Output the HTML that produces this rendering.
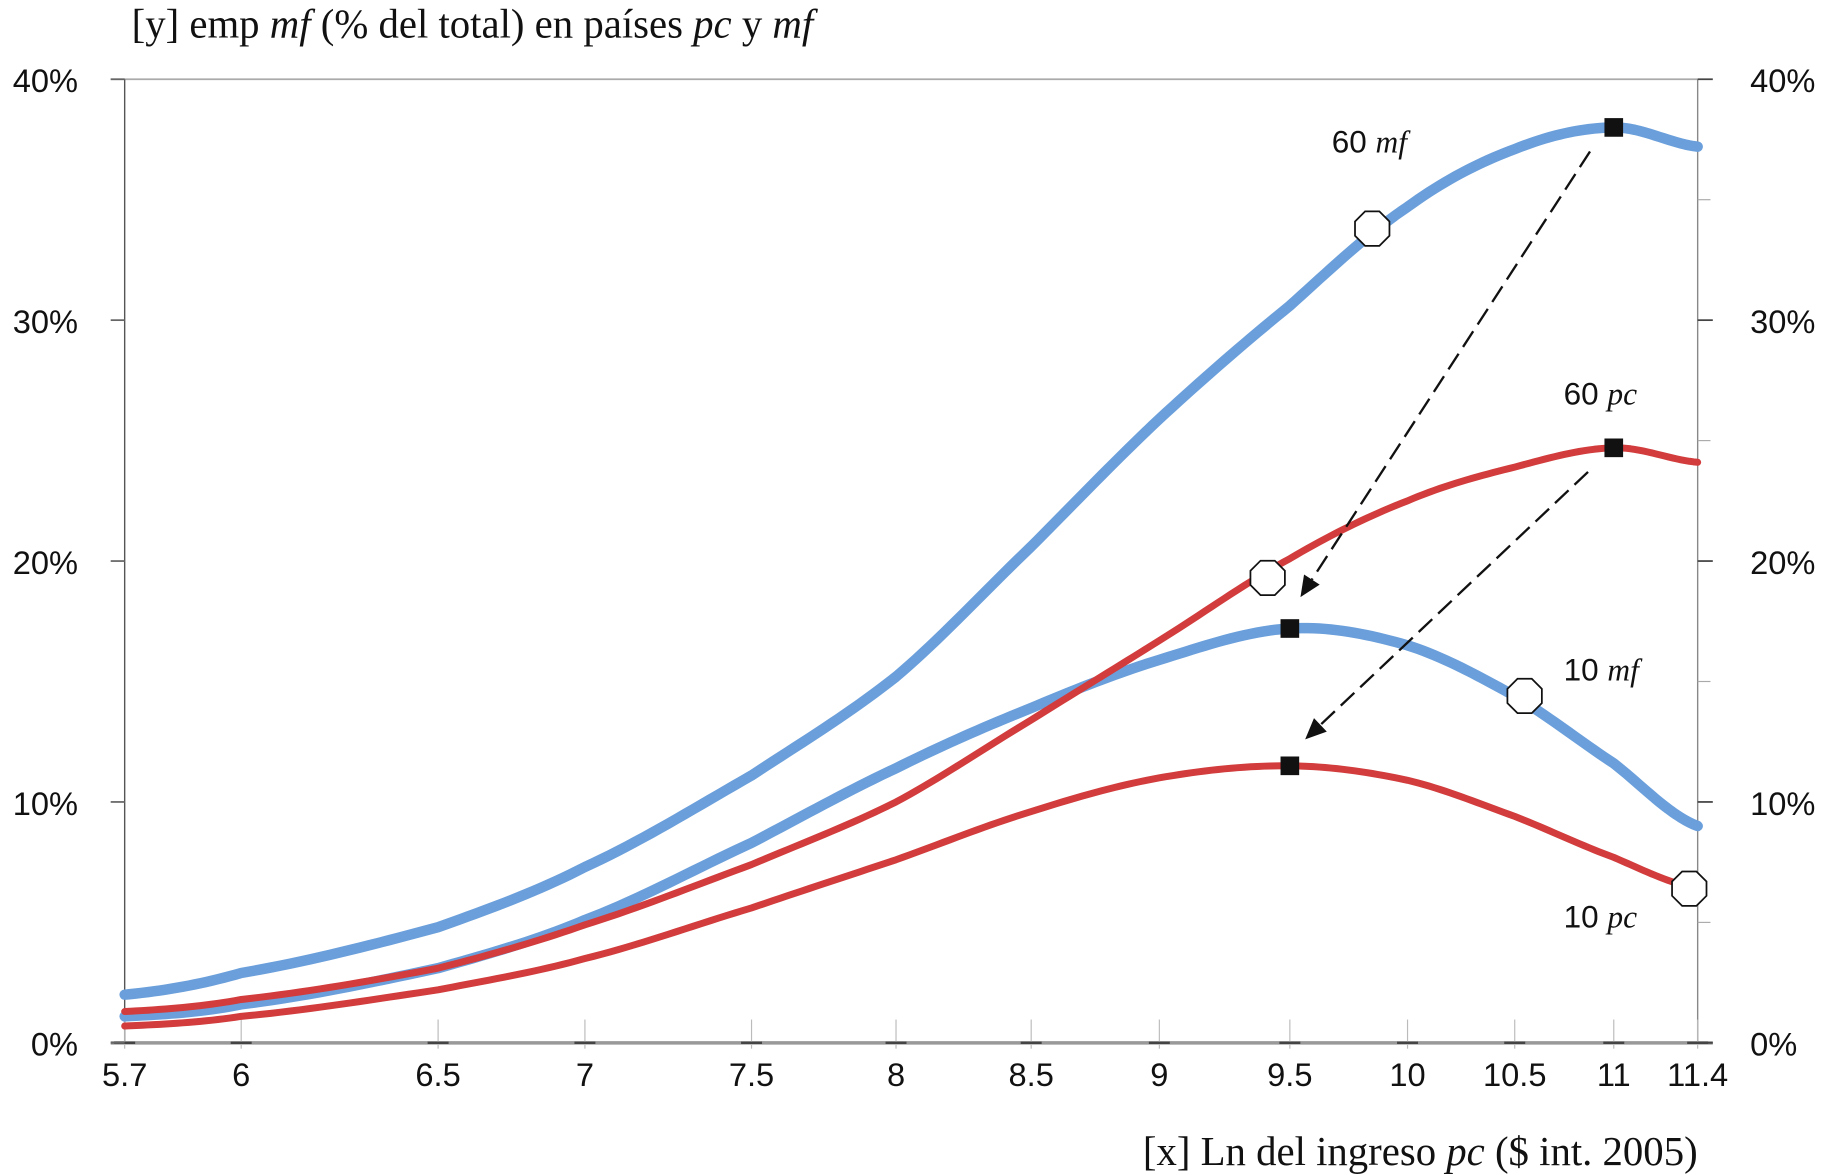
<!DOCTYPE html>
<html><head><meta charset="utf-8"><style>
html,body{margin:0;padding:0;background:#fff;}
svg{display:block;}
.t{font-family:"Liberation Sans",sans-serif;font-size:28px;fill:#111;}
.l{font-family:"Liberation Sans",sans-serif;font-size:27px;fill:#111;}
.s{font-family:"Liberation Serif",serif;font-size:35px;fill:#111;}
</style></head><body>
<svg id="chart" width="1827" height="1175" viewBox="0 0 1568 1008.4" xmlns="http://www.w3.org/2000/svg">
<g id="axes"></g>
<g id="series"></g>
<g id="marks"></g>
<text class="s" x="113" y="32">[y] emp <tspan font-style="italic">mf</tspan> (% del total) en países <tspan font-style="italic">pc</tspan> y <tspan font-style="italic">mf</tspan></text>
<text class="s" x="1457" y="1000" text-anchor="end">[x] Ln del ingreso <tspan font-style="italic">pc</tspan> ($ int. 2005)</text>
</svg>
<script>
const xTickValues=[5.7,6,6.5,7,7.5,8,8.5,9,9.5,10,10.5,11,11.4];
const xTickLabels=['5.7','6','6.5','7','7.5','8','8.5','9','9.5','10','10.5','11','11.4'];
const yTickValues=[0,10,20,30,40];
const yTickLabels=['0%','10%','20%','30%','40%'];
const xs=[5.7,6,6.5,7,7.5,8,8.5,9,9.5,10,10.5,11,11.4];
const mf60=[2.0,2.9,4.8,7.3,11.1,15.2,20.6,25.9,30.6,34.7,37.1,38.0,37.2];
const pc60=[1.3,1.8,3.1,4.9,7.4,10.0,13.4,16.7,20.1,22.5,23.9,24.7,24.1];
const mf10=[1.1,1.6,3.1,5.1,8.3,11.4,13.9,15.9,17.2,16.5,14.4,11.6,9.0];
const pc10=[0.7,1.1,2.2,3.5,5.6,7.6,9.6,11.0,11.5,10.9,9.4,7.7,6.4];
const squareX=[11,11,9.5,9.5];
const squareY=[38.0,24.7,17.2,11.5];
const circleX=[9.85,9.415,10.55,11.36];
const circleY=[33.8,19.3,14.4,6.4];
const arrowFromX=[10.88,10.87];
const arrowFromY=[37.0,23.7];
const arrowToX=[9.545,9.565];
const arrowToY=[18.5,12.6];
const knotPx=[107,207,376,502,645,769,885,995,1107,1208,1300,1385,1457];
function X(v){for(let i=0;i<xTickValues.length-1;i++){const a=xTickValues[i],b=xTickValues[i+1];if(v<=b||i==xTickValues.length-2)return knotPx[i]+(v-a)/(b-a)*(knotPx[i+1]-knotPx[i]);}}
function Y(v){return 895-v*20.675;}
const NS='http://www.w3.org/2000/svg';
function mk(tag,at,parent){const e=document.createElementNS(NS,tag);for(const k in at)e.setAttribute(k,at[k]);parent.appendChild(e);return e;}
const ax=document.getElementById('axes');
let e;
e=mk('line',{x1:95,y1:68,x2:1457,y2:68,stroke:'#aaa','stroke-width':1.5},ax);


e=mk('line',{x1:107,y1:68,x2:107,y2:895,stroke:'#555','stroke-width':1.2},ax);


e=mk('line',{x1:1457,y1:68,x2:1457,y2:895,stroke:'#888','stroke-width':1.2},ax);


e=mk('line',{x1:95,y1:895,x2:1470,y2:895,stroke:'#999','stroke-width':3},ax);


for(let i=0;i<xTickValues.length;i++){const x=X(xTickValues[i]);
 e=mk('line',{x1:x,y1:875,x2:x,y2:900,stroke:'#bbb','stroke-width':1},ax);
 
 
 e=mk('line',{x1:x-9,y1:895,x2:x+9,y2:895,stroke:'#444','stroke-width':2},ax);
 
 
 e=mk('text',{x:x,y:932,'text-anchor':'middle',class:'t'},ax);e.textContent=xTickLabels[i];
 
 
}
for(let i=0;i<yTickValues.length;i++){const y=Y(yTickValues[i]);
 e=mk('line',{x1:95,y1:y,x2:107,y2:y,stroke:'#666','stroke-width':1.5},ax);
 
 
 e=mk('line',{x1:1457,y1:y,x2:1470,y2:y,stroke:'#444','stroke-width':1.5},ax);
 
 
 e=mk('text',{x:67,y:y+11,'text-anchor':'end',class:'t'},ax);e.textContent=yTickLabels[i];
 
 
 e=mk('text',{x:1502,y:y+11,class:'t'},ax);e.textContent=yTickLabels[i];
 
 
 if(i<yTickValues.length-1){const ym=Y(yTickValues[i]+5);
  e=mk('line',{x1:1457,y1:ym,x2:1468,y2:ym,stroke:'#aaa','stroke-width':1},ax);
  
  }
}
// Catmull-Rom interpolation in data space, sampled finely then mapped to pixels
function smooth(xv,yv){const n=xv.length;let pts=[];
 for(let i=0;i<n-1;i++){const i0=Math.max(i-1,0),i3=Math.min(i+2,n-1);
  for(let s=0;s<20;s++){const t=s/20,t2=t*t,t3=t2*t;
   const f=(p0,p1,p2,p3)=>0.5*((2*p1)+(-p0+p2)*t+(2*p0-5*p1+4*p2-p3)*t2+(-p0+3*p1-3*p2+p3)*t3);
   const xx=xv[i]+(xv[i+1]-xv[i])*t;
   const yy=f(yv[i0],yv[i],yv[i+1],yv[i3]);
   pts.push(X(xx).toFixed(2)+','+Y(yy).toFixed(2));}}
 pts.push(X(xv[n-1])+','+Y(yv[n-1]));
 return 'M'+pts.join(' L');}
const sg=document.getElementById('series');
e=mk('path',{d:smooth(xs,mf60),fill:'none',stroke:'#6a9fdb','stroke-width':9,'stroke-linecap':'round','stroke-linejoin':'round'},sg);


e=mk('path',{d:smooth(xs,mf10),fill:'none',stroke:'#6a9fdb','stroke-width':9,'stroke-linecap':'round','stroke-linejoin':'round'},sg);


e=mk('path',{d:smooth(xs,pc60),fill:'none',stroke:'#d23c3c','stroke-width':6,'stroke-linecap':'round','stroke-linejoin':'round'},sg);


e=mk('path',{d:smooth(xs,pc10),fill:'none',stroke:'#d23c3c','stroke-width':6,'stroke-linecap':'round','stroke-linejoin':'round'},sg);


const mg=document.getElementById('marks');
for(let i=0;i<arrowFromX.length;i++){const x1=X(arrowFromX[i]),y1=Y(arrowFromY[i]),x2=X(arrowToX[i]),y2=Y(arrowToY[i]);
 const a=Math.atan2(y2-y1,x2-x1),L=18,W=8;
 const bx=x2-L*Math.cos(a),by=y2-L*Math.sin(a);
 e=mk('line',{x1:x1,y1:y1,x2:bx,y2:by,stroke:'#111','stroke-width':2,'stroke-dasharray':'16,7'},mg);
 
 
 const pts=[[x2,y2],[bx-W*Math.sin(a),by+W*Math.cos(a)],[bx+W*Math.sin(a),by-W*Math.cos(a)]];
 e=mk('polygon',{points:pts.map(p=>p.join(',')).join(' '),fill:'#111'},mg);
 
 
}
for(let i=0;i<circleX.length;i++){const cx=X(circleX[i]),cy=Y(circleY[i]),r=16;let pts=[];
 for(let k=0;k<8;k++){const t=Math.PI/8+k*Math.PI/4;pts.push((cx+r*Math.cos(t))+','+(cy+r*Math.sin(t)));}
 e=mk('polygon',{points:pts.join(' '),fill:'#fff',stroke:'#111','stroke-width':1.5},mg);
 
 
}
for(let i=0;i<squareX.length;i++){
 e=mk('rect',{x:X(squareX[i])-8,y:Y(squareY[i])-8,width:16,height:16,fill:'#111'},mg);
 
 
}
const labels=[['60 ','mf',1143,131],['60 ','pc',1342,347],['10 ','mf',1342,584],['10 ','pc',1342,796]];
labels.forEach(l=>{e=mk('text',{x:l[2],y:l[3],class:'l'},mg);
 e.innerHTML=l[0]+'<tspan font-style="italic" font-family="Liberation Serif">'+l[1]+'</tspan>';
 
 });
</script>
</body></html>
